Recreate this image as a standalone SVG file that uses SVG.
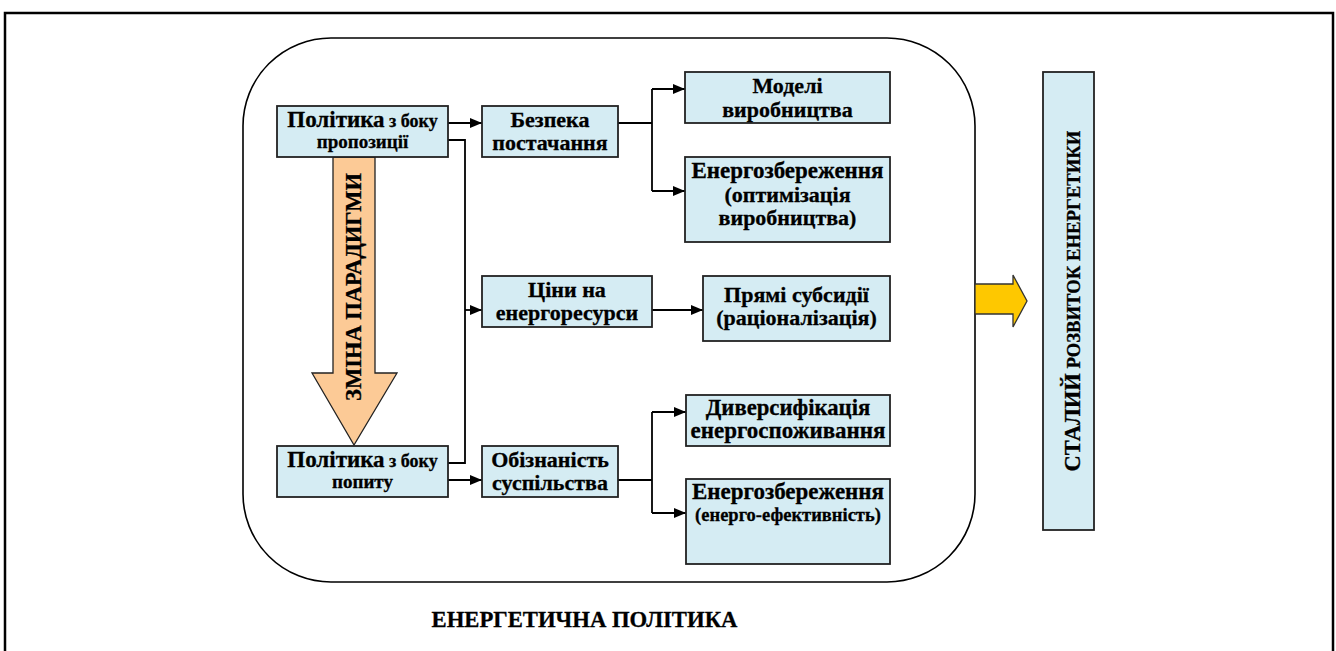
<svg xmlns="http://www.w3.org/2000/svg" width="1336" height="651" viewBox="0 0 1336 651">
<defs>
<style>
.box{fill:#d5ecf3;stroke:#222;stroke-width:1.8}
.t{font-family:'Liberation Serif','Times New Roman',serif;font-weight:700;fill:#000;stroke:#000;stroke-width:0.3;text-anchor:middle}
.f22{font-size:22px}
.f23{font-size:23px}
.f18{font-size:18px}
.ln{fill:none;stroke:#000;stroke-width:1.8}
.ar{fill:none;stroke:#000;stroke-width:1.8;marker-end:url(#ah)}
</style>
<marker id="ah" viewBox="0 0 12 10" refX="12" refY="5" markerWidth="12" markerHeight="10" markerUnits="userSpaceOnUse" orient="auto">
<path d="M0,0 L12,5 L0,10 z" fill="#000"/>
</marker>
</defs>
<rect x="0" y="0" width="1336" height="651" fill="#fff"/>
<rect id="frame" x="5" y="13" width="1328" height="660" fill="none" stroke="#000" stroke-width="2.5"/>
<g id="policy-area">
<rect x="243" y="38" width="732" height="544" rx="88" ry="88" fill="none" stroke="#000" stroke-width="1.6"/>
</g>
<g id="paradigm-arrow">
<polygon points="333,157 375,157 375,373 397,373 354,445 312,373 333,373" fill="#fcca96" stroke="#222" stroke-width="1.3"/>
<text class="t" style="font-size:22.5px" transform="translate(361,287) rotate(-90)">ЗМІНА ПАРАДИГМИ</text>
</g>
<g id="connectors">
<line class="ar" x1="448" y1="123" x2="482" y2="123"/>
<polyline class="ln" points="448,140 465,140 465,463 448,463"/>
<line class="ar" x1="465" y1="310" x2="482" y2="310"/>
<line class="ar" x1="448" y1="480" x2="482" y2="480"/>
<line class="ln" x1="618" y1="123" x2="652" y2="123"/>
<line class="ln" x1="652" y1="89" x2="652" y2="191"/>
<line class="ar" x1="652" y1="89" x2="685" y2="89"/>
<line class="ar" x1="652" y1="191" x2="685" y2="191"/>
<line class="ar" x1="652" y1="310" x2="703" y2="310"/>
<line class="ln" x1="618" y1="480" x2="652" y2="480"/>
<line class="ln" x1="652" y1="412" x2="652" y2="513"/>
<line class="ar" x1="652" y1="412" x2="686" y2="412"/>
<line class="ar" x1="652" y1="513" x2="686" y2="513"/>
</g>
<g id="supply-policy">
<rect class="box" x="277" y="106" width="171" height="51"/>
<text class="t" x="362.5" y="127"><tspan class="f23">Політика</tspan><tspan class="f18"> з боку</tspan></text>
<text class="t" x="362.5" y="148" style="font-size:19px">пропозиції</text>
</g>
<g id="demand-policy">
<rect class="box" x="277" y="446" width="171" height="51"/>
<text class="t" x="362.5" y="467"><tspan class="f23">Політика</tspan><tspan class="f18"> з боку</tspan></text>
<text class="t" x="362.5" y="488" style="font-size:19px">попиту</text>
</g>
<g id="supply-security">
<rect class="box" x="482" y="106" width="136" height="51"/>
<text class="t f22" x="550" y="127">Безпека</text>
<text class="t f22" x="550" y="150">постачання</text>
</g>
<g id="energy-prices">
<rect class="box" x="482" y="276" width="170" height="51"/>
<text class="t f22" x="567" y="297">Ціни на</text>
<text class="t f22" x="567" y="320">енергоресурси</text>
</g>
<g id="public-awareness">
<rect class="box" x="482" y="446" width="136" height="51"/>
<text class="t f22" x="550" y="467">Обізнаність</text>
<text class="t f22" x="550" y="490">суспільства</text>
</g>
<g id="production-models">
<rect class="box" x="685" y="72" width="205" height="51"/>
<text class="t f22" x="787.5" y="93">Моделі</text>
<text class="t f22" x="787.5" y="117">виробництва</text>
</g>
<g id="energy-saving-production">
<rect class="box" x="685" y="157" width="205" height="85"/>
<text class="t f23" x="787.5" y="178">Енергозбереження</text>
<text class="t f22" x="787.5" y="202">(оптимізація</text>
<text class="t f22" x="787.5" y="225">виробництва)</text>
</g>
<g id="direct-subsidies">
<rect class="box" x="703" y="276" width="187" height="65"/>
<text class="t f22" x="796.5" y="302">Прямі субсидії</text>
<text class="t f22" x="796.5" y="325">(раціоналізація)</text>
</g>
<g id="diversification">
<rect class="box" x="686" y="395" width="204" height="51"/>
<text class="t" x="788" y="415" style="font-size:22.7px">Диверсифікація</text>
<text class="t f23" x="788" y="438">енергоспоживання</text>
</g>
<g id="energy-saving-efficiency">
<rect class="box" x="686" y="479" width="204" height="85"/>
<text class="t f23" x="788" y="499">Енергозбереження</text>
<text class="t" x="788" y="521" style="font-size:18.5px">(енерго-ефективність)</text>
</g>
<g id="result-arrow">
<polygon points="975,284 1013,284 1013,275 1027,301 1013,327 1013,314 975,314" fill="#fec800" stroke="#333" stroke-width="1.3"/>
</g>
<g id="sustainable-development">
<rect class="box" x="1043" y="72" width="51" height="458"/>
<text class="t" transform="translate(1080,301) rotate(-90)"><tspan style="font-size:22.5px">СТАЛИЙ</tspan><tspan style="font-size:18.7px"> РОЗВИТОК ЕНЕРГЕТИКИ</tspan></text>
</g>
<g id="title">
<text class="t" style="font-size:22.7px" x="584.5" y="627">ЕНЕРГЕТИЧНА ПОЛІТИКА</text>
</g>
</svg>
